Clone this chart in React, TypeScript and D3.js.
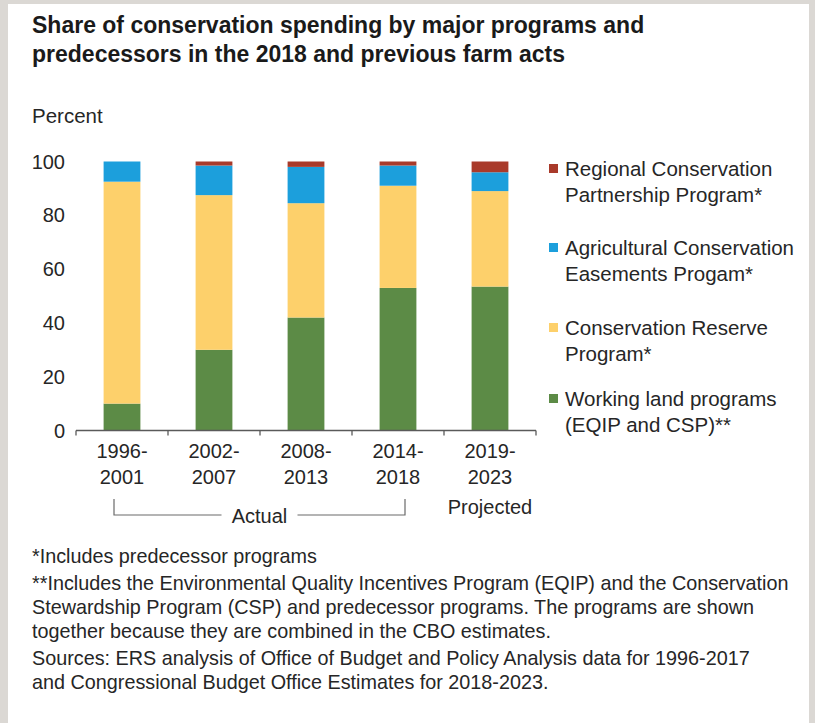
import React from "react";
import * as d3 from "d3";

const periods = ["1996-2001", "2002-2007", "2008-2013", "2014-2018", "2019-2023"];
const periodTop = ["1996-", "2002-", "2008-", "2014-", "2019-"];
const periodBottom = ["2001", "2007", "2013", "2018", "2023"];

// shares in percent
const working = [10, 30, 42, 53, 53.5];
const reserve = [82.5, 57.5, 42.5, 38, 35.5];
const easements = [7.5, 11, 13.5, 7.5, 7];
const regional = [0, 1.5, 2, 1.5, 4];

const keys = ["working", "reserve", "easements", "regional"];
const colors: Record<string, string> = {
  working: "#5c8b46",
  reserve: "#fdd06b",
  easements: "#1c9fdc",
  regional: "#a93a2a",
};
const legendLabels: Record<string, string[]> = {
  regional: ["Regional Conservation", "Partnership Program*"],
  easements: ["Agricultural Conservation", "Easements Progam*"],
  reserve: ["Conservation Reserve", "Program*"],
  working: ["Working land programs", "(EQIP and CSP)**"],
};
const legendOrder = ["regional", "easements", "reserve", "working"];
const yTicks = [0, 20, 40, 60, 80, 100];

const footnotes = [
  ["*Includes predecessor programs"],
  [
    "**Includes the Environmental Quality Incentives Program (EQIP) and the Conservation",
    "Stewardship Program (CSP) and predecessor programs. The programs are shown",
    "together because they are combined in the CBO estimates.",
  ],
  [
    "Sources: ERS analysis of Office of Budget and Policy Analysis data for 1996-2017",
    "and Congressional Budget Office Estimates for 2018-2023.",
  ],
];

const W = 815;
const H = 723;
const font = "'Liberation Sans', Arial, Helvetica, sans-serif";
const textColor = "#262626";

export default function App() {
  const rows = periods.map((p, i) => ({
    period: p,
    working: working[i],
    reserve: reserve[i],
    easements: easements[i],
    regional: regional[i],
  }));
  const series = d3.stack<any>().keys(keys)(rows);

  const x = d3.scaleBand().domain(periods).range([76, 536]).paddingInner(0.6).paddingOuter(0.3);
  const y = d3.scaleLinear().domain([0, 100]).range([430.5, 161.5]);
  const bw = x.bandwidth();
  const boundaries = d3.range(periods.length + 1).map((i) => x.range()[0] + i * x.step());

  const legendY = d3.scaleOrdinal<string, number>().domain(legendOrder).range([176, 255, 335, 406]);

  // bracket under the "Actual" periods
  const bx0 = (x(periods[0]) as number) + bw / 2 - 8;
  const bx1 = (x(periods[3]) as number) + bw / 2 + 7;
  const bmid = (bx0 + bx1) / 2;

  let lineY = 563;
  const footLines: { text: string; y: number }[] = [];
  footnotes.forEach((block) => {
    block.forEach((t, j) => {
      footLines.push({ text: t, y: lineY });
      lineY += j === block.length - 1 ? 27 : 24;
    });
  });

  return (
    <div style={{ position: "absolute", left: 0, top: 0 }}>
      <svg width={W} height={H} style={{ display: "block", fontFamily: font }}>
        <rect width={W} height={H} fill="#dbd8d4" />
        <rect x={8} y={4} width={801} height={H - 4} fill="#ffffff" />

        <g fill="#1a1a1a" fontWeight="bold" fontSize={23}>
          <text x={32} y={33}>Share of conservation spending by major programs and</text>
          <text x={32} y={62}>predecessors in the 2018 and previous farm acts</text>
        </g>

        <text x={32} y={123} fontSize={20.5} fill={textColor}>Percent</text>

        {yTicks.map((t) => (
          <text key={t} x={65} y={y(t)} dy="0.35em" textAnchor="end" fontSize={20} fill={textColor}>
            {t}
          </text>
        ))}

        {series.map((s) => (
          <g key={s.key} fill={colors[s.key]}>
            {s.map((d, i) => (
              <rect
                key={i}
                x={x(periods[i])}
                y={y(d[1])}
                width={bw}
                height={Math.max(0, y(d[0]) - y(d[1]))}
              />
            ))}
          </g>
        ))}

        <g stroke="#5a5a5a" strokeWidth={1.3}>
          <line x1={boundaries[0]} x2={boundaries[boundaries.length - 1]} y1={y(0)} y2={y(0)} />
          {boundaries.map((b, i) => (
            <line key={i} x1={b} x2={b} y1={y(0)} y2={y(0) + 5} />
          ))}
        </g>

        <g fontSize={20} fill={textColor} textAnchor="middle">
          {periods.map((p, i) => (
            <text key={p} x={(x(p) as number) + bw / 2} y={458}>
              <tspan x={(x(p) as number) + bw / 2}>{periodTop[i]}</tspan>
              <tspan x={(x(p) as number) + bw / 2} dy={26}>{periodBottom[i]}</tspan>
            </text>
          ))}
          <text x={bmid} y={523}>Actual</text>
          <text x={(x(periods[4]) as number) + bw / 2} y={514}>Projected</text>
        </g>

        <g stroke="#6a6a6a" strokeWidth={1.2} fill="none">
          <path d={`M${bx0},499V515H${bmid - 38}`} />
          <path d={`M${bmid + 38},515H${bx1}V499`} />
        </g>

        {legendOrder.map((k) => (
          <g key={k}>
            <rect x={549} y={legendY(k) - 12} width={9} height={9} fill={colors[k]} />
            <text x={565} y={legendY(k)} fontSize={20.5} fill={textColor}>
              <tspan x={565}>{legendLabels[k][0]}</tspan>
              <tspan x={565} dy={26}>{legendLabels[k][1]}</tspan>
            </text>
          </g>
        ))}

        <g fontSize={19.8} fill={textColor}>
          {footLines.map((l, i) => (
            <text key={i} x={32} y={l.y}>{l.text}</text>
          ))}
        </g>
      </svg>
    </div>
  );
}
